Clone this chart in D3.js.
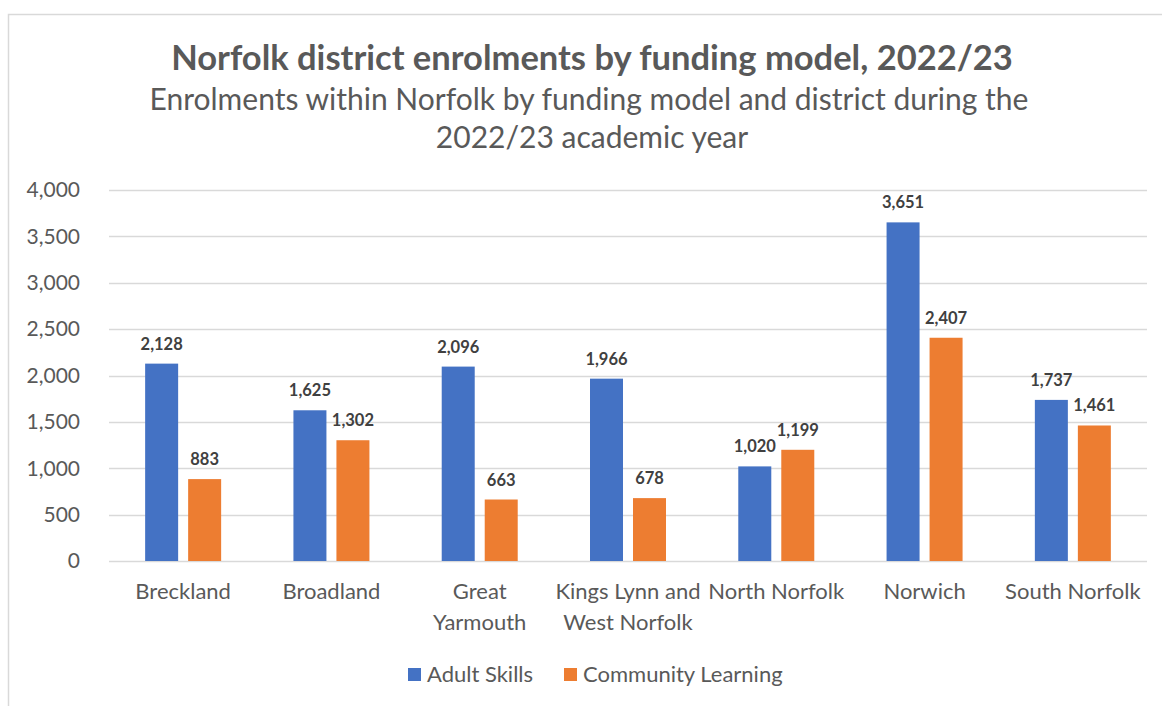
<!DOCTYPE html>
<html>
<head>
<meta charset="utf-8">
<script src="https://cdn.jsdelivr.net/npm/d3@7"></script>
<style>
  html, body { margin: 0; padding: 0; background: #fff; }
  svg { display: block; font-family: Lato, "Open Sans", sans-serif; }
</style>
</head>
<body>
<svg id="chart" width="1162" height="706"></svg>
<script>
// District enrolments, 2022/23
const districts = ["Breckland", "Broadland", "Great Yarmouth", "Kings Lynn and West Norfolk", "North Norfolk", "Norwich", "South Norfolk"];
const districtLines = [["Breckland"], ["Broadland"], ["Great", "Yarmouth"], ["Kings Lynn and", "West Norfolk"], ["North Norfolk"], ["Norwich"], ["South Norfolk"]];
const adultSkills = [2128, 1625, 2096, 1966, 1020, 3651, 1737];
const communityLearning = [883, 1302, 663, 678, 1199, 2407, 1461];
const seriesNames = ["Adult Skills", "Community Learning"];
const seriesColors = ["#4472C4", "#ED7D31"];
const yTicks = [0, 500, 1000, 1500, 2000, 2500, 3000, 3500, 4000];

const svg = d3.select("#chart");
const plot = { left: 109, right: 1147, top: 190, bottom: 561 };
const textColor = "#595959";

// outer frame
svg.append("rect")
  .attr("x", 8.5).attr("y", 14.5)
  .attr("width", 1170).attr("height", 720)
  .attr("fill", "none").attr("stroke", "#d9d9d9").attr("stroke-width", 1.5);

// titles
svg.append("text")
  .attr("x", 592).attr("y", 70)
  .attr("text-anchor", "middle")
  .attr("font-size", 34.5).attr("font-weight", "bold")
  .attr("fill", textColor)
  .text("Norfolk district enrolments by funding model, 2022/23");

const sub = svg.append("text")
  .attr("text-anchor", "middle")
  .attr("font-size", 30)
  .attr("fill", textColor);
sub.append("tspan").attr("x", 589).attr("y", 110)
  .text("Enrolments within Norfolk by funding model and district during the");
sub.append("tspan").attr("x", 592).attr("y", 148)
  .text("2022/23 academic year");

// scales
const x0 = d3.scaleBand().domain(districts).range([plot.left, plot.right]).paddingInner(0).paddingOuter(0);
const y = d3.scaleLinear().domain([0, 4000]).range([plot.bottom, plot.top]);
const barW = 33, barGap = 10;
const offsets = [-(barGap / 2 + barW), barGap / 2];

// gridlines
svg.append("g")
  .selectAll("line")
  .data(yTicks)
  .join("line")
  .attr("x1", plot.left).attr("x2", plot.right)
  .attr("y1", d => Math.round(y(d)) + 0.5).attr("y2", d => Math.round(y(d)) + 0.5)
  .attr("stroke", "#d9d9d9").attr("stroke-width", 1.5);

// y axis labels
const fmt = d3.format(",");
svg.append("g")
  .selectAll("text")
  .data(yTicks)
  .join("text")
  .attr("x", 80).attr("y", d => y(d))
  .attr("dy", "0.35em")
  .attr("text-anchor", "end")
  .attr("font-size", 21)
  .attr("fill", textColor)
  .text(d => fmt(d));

// bars and value labels
const series = [adultSkills, communityLearning];
series.forEach((vals, si) => {
  const g = svg.append("g");
  g.selectAll("rect")
    .data(vals)
    .join("rect")
    .attr("x", (d, i) => x0(districts[i]) + x0.bandwidth() / 2 + offsets[si])
    .attr("y", d => y(d))
    .attr("width", barW)
    .attr("height", d => y(0) - y(d))
    .attr("fill", seriesColors[si]);
  g.selectAll("text")
    .data(vals)
    .join("text")
    .attr("x", (d, i) => x0(districts[i]) + x0.bandwidth() / 2 + offsets[si] + barW / 2)
    .attr("y", d => y(d) - 14)
    .attr("text-anchor", "middle")
    .attr("font-size", 16.5).attr("font-weight", "bold")
    .attr("fill", "#404040")
    .text(d => fmt(d));
});

// category labels
const cat = svg.append("g");
districts.forEach((d, i) => {
  const t = cat.append("text")
    .attr("text-anchor", "middle")
    .attr("font-size", 22)
    .attr("fill", textColor);
  districtLines[i].forEach((line, li) => {
    t.append("tspan")
      .attr("x", x0(d) + x0.bandwidth() / 2)
      .attr("y", 599 + li * 31)
      .text(line);
  });
});

// legend
const legend = svg.append("g");
const legendItems = [{ x: 408 }, { x: 564 }];
seriesNames.forEach((name, i) => {
  legend.append("rect")
    .attr("x", legendItems[i].x).attr("y", 668)
    .attr("width", 13).attr("height", 13)
    .attr("fill", seriesColors[i]);
  legend.append("text")
    .attr("x", legendItems[i].x + 19).attr("y", 682)
    .attr("font-size", 22)
    .attr("fill", textColor)
    .text(name);
});
</script>
</body>
</html>
